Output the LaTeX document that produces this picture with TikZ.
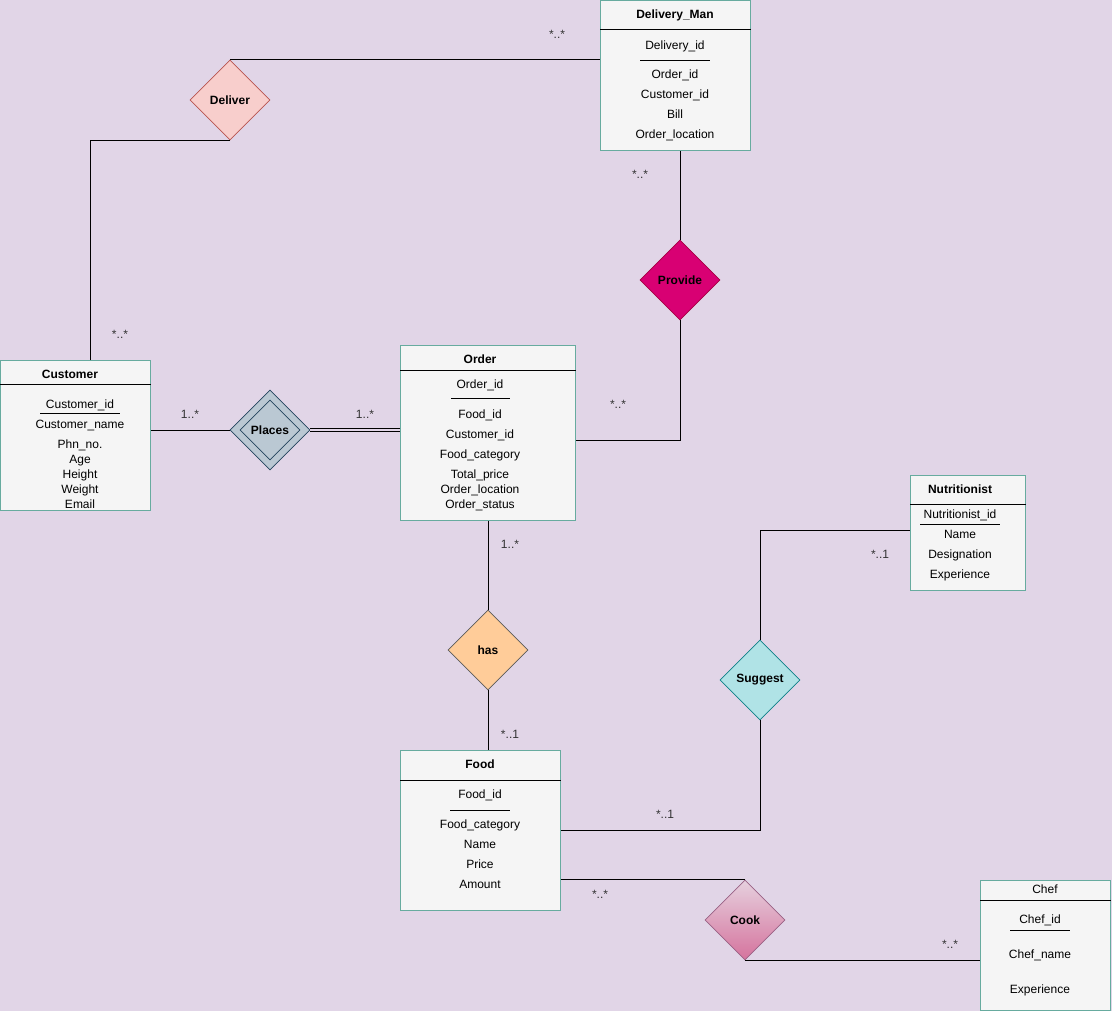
\documentclass[tikz,border=0pt]{standalone}
\usepackage{fontspec}
\setmainfont{Liberation Sans}
\usetikzlibrary{positioning,shapes.geometric}
\definecolor{bgpurple}{HTML}{E1D5E7}
\definecolor{entfill}{HTML}{F5F5F5}
\definecolor{entline}{HTML}{67AB9F}
\definecolor{delivfill}{HTML}{F8CECC}
\definecolor{delivline}{HTML}{B85450}
\definecolor{provfill}{HTML}{D80073}
\definecolor{provline}{HTML}{A50040}
\definecolor{placefill}{HTML}{BAC8D3}
\definecolor{placeline}{HTML}{23445D}
\definecolor{hasfill}{HTML}{FFCC99}
\definecolor{hasline}{HTML}{5A5A5A}
\definecolor{sugfill}{HTML}{B0E3E6}
\definecolor{sugline}{HTML}{0E8088}
\definecolor{cooktop}{HTML}{E6D0DE}
\definecolor{cookbot}{HTML}{D5739D}
\definecolor{cookline}{HTML}{996185}
\definecolor{multgray}{HTML}{333333}

\begin{document}
\begin{tikzpicture}[x=1pt, y=-1pt,
  entity/.style={draw=entline, fill=entfill, line width=1pt, anchor=north west, inner sep=0pt},
  title/.style={font=\fontsize{12}{14}\selectfont\bfseries, inner sep=0pt},
  attr/.style={font=\fontsize{12}{14}\selectfont, inner sep=0pt, text height=8.6pt,
    text depth=2.6pt, yshift=-1.5pt},
  rel/.style={diamond, aspect=1, minimum width=80pt, minimum height=80pt, inner sep=0pt,
    line width=0.8pt, font=\fontsize{12}{14}\selectfont\bfseries},
  mult/.style={font=\fontsize{12}{14}\selectfont, text=multgray, inner sep=0pt},
  link/.style={line width=1pt}]

% Background
\fill[bgpurple] (0,0) rectangle (1112,1011);
\useasboundingbox (0,0) rectangle (1112,1011);

% Entities
\node[entity, minimum width=150pt, minimum height=150pt] (customer) at (0,360) {};
\node[entity, minimum width=175pt, minimum height=175pt] (order) at (400,345) {};
\node[entity, minimum width=150pt, minimum height=150pt] (dman) at (600,0) {};
\node[entity, minimum width=160pt, minimum height=160pt] (food) at (400,750) {};
\node[entity, minimum width=115pt, minimum height=115pt] (nutri) at (910,475) {};
\node[entity, minimum width=130pt, minimum height=130pt] (chef) at (980,880) {};

% Header lines
\draw[link] ([yshift=-24pt]customer.north west) -- ([yshift=-24pt]customer.north east);
\draw[link] ([yshift=-25pt]order.north west) -- ([yshift=-25pt]order.north east);
\draw[link] ([yshift=-30pt]dman.north west) -- ([yshift=-30pt]dman.north east);
\draw[link] ([yshift=-30pt]food.north west) -- ([yshift=-30pt]food.north east);
\draw[link] ([yshift=-29pt]nutri.north west) -- ([yshift=-29pt]nutri.north east);
\draw[link] ([yshift=-20pt]chef.north west) -- ([yshift=-20pt]chef.north east);

% Titles
\node[title] (custtitle) at (70,374) {Customer};
\node[title] (ordertitle) at (480,359) {Order};
\node[title] (dmantitle) at (675,15) {Delivery\_Man};
\node[title] (foodtitle) at (480,764) {Food};
\node[title] (nutrititle) at (960,489) {Nutritionist};
\node[title, font=\fontsize{12}{14}\selectfont] (cheftitle) at (1045,889) {Chef};

% Attributes
\foreach \t/\y [count=\i] in {Customer\_id/404, Customer\_name/424, Phn\_no./444,
    Age/459, Height/474, Weight/489, Email/504}
  \node[attr] (cust\i) at (80,\y) {\t};
\foreach \t/\y [count=\i] in {Order\_id/384, Food\_id/414, Customer\_id/434,
    Food\_category/454, Total\_price/474, Order\_location/489, Order\_status/504}
  \node[attr] (ord\i) at (480,\y) {\t};
\foreach \t/\y [count=\i] in {Delivery\_id/45, Order\_id/74, Customer\_id/94,
    Bill/114, Order\_location/134}
  \node[attr] (dm\i) at (675,\y) {\t};
\foreach \t/\y [count=\i] in {Food\_id/794, Food\_category/824, Name/844,
    Price/864, Amount/884}
  \node[attr] (fd\i) at (480,\y) {\t};
\foreach \t/\y [count=\i] in {Nutritionist\_id/514, Name/534, Designation/554,
    Experience/574}
  \node[attr] (nu\i) at (960,\y) {\t};
\foreach \t/\y [count=\i] in {Chef\_id/919, Chef\_name/954, Experience/989}
  \node[attr] (ch\i) at (1040,\y) {\t};

% Key underlines
\draw[line width=0.8pt] (40,413) -- (120,413);
\draw[line width=0.8pt] (451,398) -- (510,398);
\draw[line width=0.8pt] (640,60) -- (710,60);
\draw[line width=0.8pt] (450,810) -- (510,810);
\draw[line width=0.8pt] (920,524) -- (1000,524);
\draw[line width=0.8pt] (1010,930) -- (1070,930);

% Relationships
\node[rel, draw=delivline, fill=delivfill] (deliver) at (230,100) {Deliver};
\node[rel, draw=provline, fill=provfill] (provide) at (680,280) {Provide};
\node[rel, draw=placeline, fill=placefill] (places) at (270,430) {Places};
\node[diamond, aspect=1, draw=placeline, line width=0.8pt, minimum width=60pt,
  minimum height=60pt, inner sep=0pt] (placesin) at (places) {};
\node[rel, draw=hasline, fill=hasfill] (has) at (488,650) {has};
\node[rel, draw=sugline, fill=sugfill] (suggest) at (760,680) {Suggest};
\node[rel, draw=cookline, top color=cooktop, bottom color=cookbot] (cook) at (745,920) {Cook};

% Connectors
\draw[link] (customer.east |- places) -- (places.west);
\draw[line width=0.8pt, double=bgpurple, double distance=2pt] (places.east) -- (places.east -| order.west);
\draw[link] (deliver.north) -- (deliver.north -| dman.west);
\draw[link] ([xshift=15pt]customer.north) |- (deliver.south);
\draw[link] (provide.north) -- (provide.north |- dman.south);
\draw[link] (provide.south) |- ([yshift=-7.5pt]order.east);
\draw[link] (has.north) -- (has.north |- order.south);
\draw[link] (has.south) -- (has.south |- food.north);
\draw[link] (suggest.north) |- ([yshift=2.5pt]nutri.west);
\draw[link] (suggest.south) |- (food.east);
\draw[link] (cook.north) -- (cook.north -| food.east);
\draw[link] (cook.south) -- (cook.south -| chef.west);

% Multiplicities
\foreach \m/\x/\y [count=\i] in {*..*/557/34, *..*/120/334, *..*/640/174, *..*/618/404,
    1..*/190/414, 1..*/365/414, 1..*/510/544, *..1/510/734, *..1/880/554,
    *..1/665/814, *..*/600/894, *..*/950/944}
  \node[mult] (mult\i) at (\x,\y) {\m};
\end{tikzpicture}
\end{document}
